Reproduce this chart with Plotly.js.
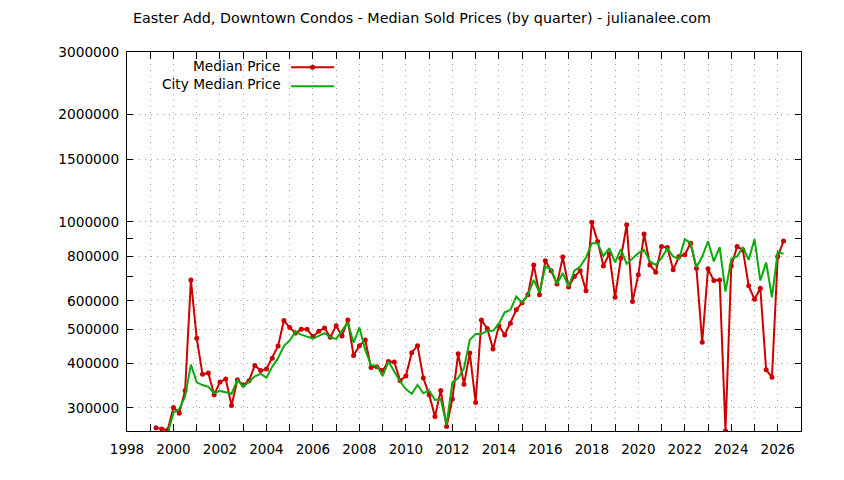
<!DOCTYPE html>
<html>
<head>
<meta charset="utf-8">
<script src="https://cdn.plot.ly/plotly-3.0.1.min.js"></script>
<style>
  html, body { margin: 0; padding: 0; background: #ffffff; }
  #chart { width: 844px; height: 480px; }
</style>
</head>
<body>
<div id="chart"></div>
<script>
// Quarter positions (decimal years)
const quarters = [
  1999.25, 1999.5, 1999.75,
  2000.0, 2000.25, 2000.5, 2000.75,
  2001.0, 2001.25, 2001.5, 2001.75,
  2002.0, 2002.25, 2002.5, 2002.75,
  2003.0, 2003.25, 2003.5, 2003.75,
  2004.0, 2004.25, 2004.5, 2004.75,
  2005.0, 2005.25, 2005.5, 2005.75,
  2006.0, 2006.25, 2006.5, 2006.75,
  2007.0, 2007.25, 2007.5, 2007.75,
  2008.0, 2008.25, 2008.5, 2008.75,
  2009.0, 2009.25, 2009.5, 2009.75,
  2010.0, 2010.25, 2010.5, 2010.75,
  2011.0, 2011.25, 2011.5, 2011.75,
  2012.0, 2012.25, 2012.5, 2012.75,
  2013.0, 2013.25, 2013.5, 2013.75,
  2014.0, 2014.25, 2014.5, 2014.75,
  2015.0, 2015.25, 2015.5, 2015.75,
  2016.0, 2016.25, 2016.5, 2016.75,
  2017.0, 2017.25, 2017.5, 2017.75,
  2018.0, 2018.25, 2018.5, 2018.75,
  2019.0, 2019.25, 2019.5, 2019.75,
  2020.0, 2020.25, 2020.5, 2020.75,
  2021.0, 2021.25, 2021.5, 2021.75,
  2022.0, 2022.25, 2022.5, 2022.75,
  2023.0, 2023.25, 2023.5, 2023.75,
  2024.0, 2024.25, 2024.5, 2024.75,
  2025.0, 2025.25, 2025.5, 2025.75,
  2026.0, 2026.25
];

// Median Price (Easter Add, Downtown Condos)
const medianPrice = [
  264000, 262000, 260000,
  301000, 290000, 336000, 687000,
  471000, 373000, 376000, 327000,
  355000, 362000, 305000, 360000,
  348000, 358000, 395000, 382000,
  386000, 414000, 448000, 528000,
  505000, 487000, 499000, 499000,
  476000, 493000, 503000, 474000,
  511000, 478000, 530000, 421000,
  449000, 466000, 390000, 392000,
  382000, 405000, 404000, 358000,
  369000, 429000, 449000, 364000,
  327000, 284000, 336000, 266000,
  318000, 426000, 350000, 428000,
  311000, 530000, 502000, 439000,
  511000, 481000, 519000, 566000,
  593000, 624000, 757000, 624000,
  777000, 729000, 669000, 796000,
  656000, 702000, 729000, 640000,
  998000, 880000, 752000, 813000,
  614000, 790000, 981000, 597000,
  710000, 925000, 757000, 722000,
  852000, 847000, 733000, 799000,
  808000, 871000, 741000, 459000,
  738000, 684000, 687000, 259000,
  752000, 852000, 834000, 661000,
  606000, 651000, 384000, 366000,
  799000, 884000
];

// City Median Price
const cityMedianPrice = [
  null, null, 255000,
  291000, 298000, 323000, 397000,
  354000, 348000, 344000, 330000,
  335000, 332000, 329000, 360000,
  345000, 355000, 368000, 374000,
  365000, 392000, 414000, 448000,
  464000, 492000, 482000, 476000,
  470000, 478000, 487000, 474000,
  469000, 495000, 521000, 458000,
  505000, 437000, 396000, 394000,
  369000, 405000, 380000, 356000,
  339000, 329000, 348000, 330000,
  336000, 316000, 318000, 269000,
  354000, 364000, 388000, 466000,
  484000, 484000, 494000, 494000,
  517000, 557000, 566000, 617000,
  593000, 624000, 687000, 633000,
  749000, 736000, 669000, 718000,
  658000, 729000, 749000, 794000,
  871000, 871000, 801000, 843000,
  769000, 838000, 762000, 791000,
  817000, 834000, 774000, 757000,
  791000, 843000, 799000, 786000,
  894000, 871000, 746000, 799000,
  882000, 774000, 849000, 637000,
  786000, 799000, 849000, 782000,
  894000, 684000, 769000, 614000,
  825000, 813000
];

// Axis ticks
const xTickVals = [1998, 1999, 2000, 2001, 2002, 2003, 2004, 2005, 2006, 2007, 2008, 2009, 2010, 2011, 2012,
                   2013, 2014, 2015, 2016, 2017, 2018, 2019, 2020, 2021, 2022, 2023, 2024, 2025, 2026, 2027];
const xTickText = ['1998', '', '2000', '', '2002', '', '2004', '', '2006', '', '2008', '', '2010', '', '2012',
                   '', '2014', '', '2016', '', '2018', '', '2020', '', '2022', '', '2024', '', '2026', ''];
const yTickVals = [300000, 400000, 500000, 600000, 800000, 1000000, 1500000, 2000000, 3000000];
const yTickText = ['300000', '400000', '500000', '600000', '800000', '1000000', '1500000', '2000000', '3000000'];
const yMinorTickVals = [700000, 900000];

const seriesNames = ['Median Price', 'City Median Price'];
const titleText = 'Easter Add, Downtown Condos - Median Sold Prices (by quarter) - julianalee.com';

const FONT = 'DejaVu Sans, Verdana, sans-serif';

const traces = [
  {
    x: quarters, y: medianPrice, name: seriesNames[0],
    type: 'scatter', mode: 'lines+markers',
    line: { color: '#cc0000', width: 2 },
    marker: { color: '#cc0000', size: 5, symbol: 'circle' },
    connectgaps: false
  },
  {
    x: quarters, y: cityMedianPrice, name: seriesNames[1],
    type: 'scatter', mode: 'lines',
    line: { color: '#0aab0a', width: 2 },
    connectgaps: false
  }
];

const layout = {
  width: 844, height: 480,
  margin: { l: 127, r: 43, t: 52, b: 49, pad: 0 },
  paper_bgcolor: '#ffffff', plot_bgcolor: '#ffffff',
  font: { family: FONT, size: 13.5, color: '#000000' },
  title: {
    text: titleText,
    x: 0.5, xref: 'container', xanchor: 'center',
    y: 1 - 18 / 480, yref: 'container', yanchor: 'middle',
    font: { family: FONT, size: 14.3, color: '#000000' }
  },
  showlegend: true,
  legend: {
    x: 0.236, xanchor: 'left', xref: 'paper',
    y: 0.998, yanchor: 'top', yref: 'paper',
    bgcolor: 'rgba(0,0,0,0)', borderwidth: 0,
    font: { family: FONT, size: 10, color: 'rgba(0,0,0,0)' },
    itemwidth: 43,
    tracegroupgap: 0
  },
  annotations: [
    { xref: 'paper', yref: 'paper', x: 0.2315, y: (431 - 66) / 379, xanchor: 'right', yanchor: 'middle',
      text: seriesNames[0], showarrow: false, font: { family: FONT, size: 13.7, color: '#000' } },
    { xref: 'paper', yref: 'paper', x: 0.2315, y: (431 - 84) / 379, xanchor: 'right', yanchor: 'middle',
      text: seriesNames[1], showarrow: false, font: { family: FONT, size: 13.7, color: '#000' } }
  ],
  xaxis: {
    type: 'linear', range: [1998, 2027],
    tickmode: 'array', tickvals: xTickVals, ticktext: xTickText,
    ticks: 'inside', ticklen: 7, tickwidth: 1, tickcolor: '#000',
    showline: true, linecolor: '#000', linewidth: 1, mirror: 'ticks',
    showgrid: true, gridcolor: '#a0a0a0', gridwidth: 1, griddash: '1px,5px',
    zeroline: false, ticklabelstandoff: 6,
    tickfont: { family: FONT, size: 13.5, color: '#000' }
  },
  yaxis: {
    type: 'log', range: [Math.log10(258500), Math.log10(3000000)],
    tickmode: 'array', tickvals: yTickVals, ticktext: yTickText,
    ticks: 'inside', ticklen: 6, tickwidth: 1, tickcolor: '#000',
    showline: true, linecolor: '#000', linewidth: 1, mirror: 'ticks',
    showgrid: true, gridcolor: '#a0a0a0', gridwidth: 1, griddash: '1px,5px',
    zeroline: false, ticklabelstandoff: 4,
    minor: { tickmode: 'array', tickvals: yMinorTickVals, ticks: 'inside', ticklen: 6, tickcolor: '#000', showgrid: false },
    tickfont: { family: FONT, size: 13.7, color: '#000' }
  }
};

Plotly.newPlot('chart', traces, layout, { displayModeBar: false, staticPlot: true });
</script>
</body>
</html>
